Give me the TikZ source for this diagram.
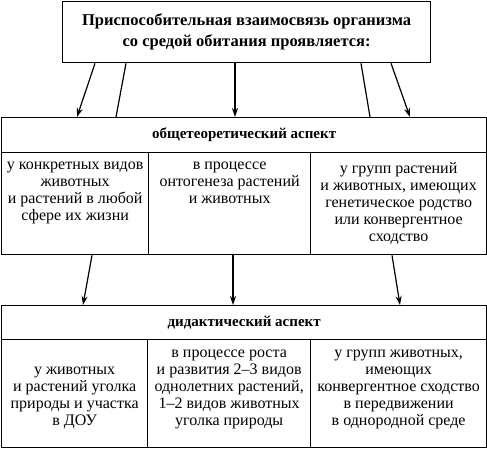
\documentclass[tikz,border=0pt]{standalone}
\usepackage{fontspec}
\setmainfont{Liberation Serif}
\usetikzlibrary{positioning, arrows.meta}
\tikzstyle{frame} = [rectangle, draw=black, line width=1.3pt, anchor=north west, inner sep=0pt]
\tikzstyle{head} = [align=center, font=\bfseries\fontsize{15}{21}\selectfont]
\tikzstyle{title} = [align=center, font=\bfseries\fontsize{16.5}{21}\selectfont]
\tikzstyle{cell} = [align=center, font=\fontsize{16}{17}\selectfont, inner sep=0pt]
\tikzstyle{arrow} = [line width=1.2pt, -{Stealth[length=9pt,width=6pt]}]
\tikzstyle{link} = [line width=1.2pt]

\begin{document}
\begin{tikzpicture}[x=1pt, y=-1pt]
	\useasboundingbox (0,0) rectangle (487,449);
	\node (top) [frame, title, minimum width=368pt, minimum height=61pt] at (62,1) {Приспособительная взаимосвязь организма\\со средой обитания проявляется:};
	% общетеоретический аспект
	\node (h1) [frame, head, minimum width=485pt, minimum height=35pt] at (1,117) {общетеоретический аспект};
	\node (c1) [frame, minimum width=147pt, minimum height=102pt] at (1,152) {};
	\node (c2) [frame, minimum width=162pt, minimum height=102pt] at (148,152) {};
	\node (c3) [frame, minimum width=176pt, minimum height=102pt] at (310,152) {};
	\node (t1) [cell, below=10pt of c1.north] {у конкретных видов\\животных\\и растений в любой\\сфере их жизни};
	\node (t2) [cell, below=10pt of c2.north] {в процессе\\онтогенеза растений\\и животных};
	\node (t3) [cell, below=10pt of c3.north] {у групп растений\\и животных, имеющих\\генетическое родство\\или конвергентное\\сходство};
	% дидактический аспект
	\node (h2) [frame, head, minimum width=485pt, minimum height=34pt] at (1,305) {дидактический аспект};
	\node (d1) [frame, minimum width=146pt, minimum height=108pt] at (1,339) {};
	\node (d2) [frame, minimum width=163pt, minimum height=108pt] at (147,339) {};
	\node (d3) [frame, minimum width=176pt, minimum height=108pt] at (310,339) {};
	\node (s1) [cell, above=19pt of d1.south] {у животных\\и растений уголка\\природы и участка\\в ДОУ};
	\node (s2) [cell, above=19pt of d2.south] {в процессе роста\\и развития 2--3 видов\\однолетних растений,\\1--2 видов животных\\уголка природы};
	\node (s3) [cell, above=19pt of d3.south] {у групп животных,\\имеющих\\конвергентное сходство\\в передвижении\\в однородной среде};
	\draw [arrow] ([xshift=33pt]top.south west) -- ([xshift=76pt]h1.north west);
	\draw [link] ([xshift=64pt]top.south west) -- ([xshift=115pt]h1.north west);
	\draw [arrow] ([xshift=173pt]top.south west) -- ([xshift=234pt]h1.north west);
	\draw [link] ([xshift=299pt]top.south west) -- ([xshift=369pt]h1.north west);
	\draw [arrow] ([xshift=329pt]top.south west) -- ([xshift=409pt]h1.north west);
	\draw [arrow] ([xshift=91pt]c1.south west) -- ([xshift=82pt]h2.north west);
	\draw [arrow] ([xshift=85pt]c2.south west) -- ([xshift=232pt]h2.north west);
	\draw [arrow] ([xshift=82pt]c3.south west) -- ([xshift=399pt]h2.north west);
\end{tikzpicture}
\end{document}
